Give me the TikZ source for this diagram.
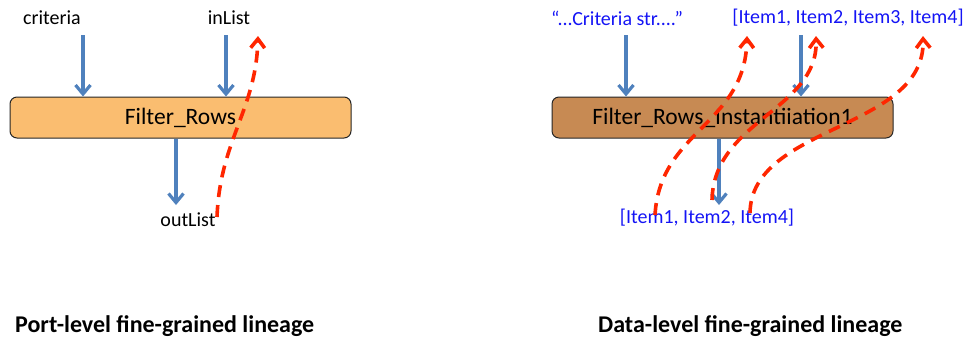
\documentclass[tikz,border=0pt]{standalone}
\usepackage{fontspec}
\setmainfont{Carlito}
\usetikzlibrary{arrows.meta}
\definecolor{flowblue}{RGB}{79,129,189}
\definecolor{lineagered}{RGB}{255,38,0}
\definecolor{portorange}{RGB}{250,189,112}
\definecolor{databrown}{RGB}{199,138,83}
\definecolor{valueblue}{RGB}{20,20,245}
\begin{document}
\begin{tikzpicture}[x=1pt,y=-1pt,
    port/.style={font=\fontsize{20}{24}\selectfont},
    value/.style={font=\fontsize{20}{24}\selectfont, text=valueblue},
    actor/.style={draw=black!85, line width=1pt, rounded corners=7pt, minimum width=341pt, minimum height=41pt, inner sep=0pt, font=\fontsize{23.5}{28}\selectfont},
    flow/.style={draw=flowblue, line width=3.2pt, -{Straight Barb[length=9pt,width=15pt]}},
    lineage/.style={draw=lineagered, line width=3.6pt, dash pattern=on 12pt off 8pt, -{Straight Barb[length=9pt,width=14pt]}},
    title/.style={anchor=west, inner sep=0pt, font=\fontsize{24}{29}\selectfont\bfseries}]
  \useasboundingbox (0,0) rectangle (968,341);

  % Port level - actor with its three ports
  \node[actor, fill=portorange] (filter) at (180.5,117.5) {Filter\_Rows};
  \node[port] (criteria) at (52,18) {criteria};
  \node[port] (inList) at (229,18) {inList};
  \node[port] (outList) at (188,220) {outList};
  \coordinate (criteriaIn) at (83,35);
  \coordinate (inListIn) at (226,35);
  \coordinate (outListOut) at (176,205);
  \draw[flow] (criteriaIn) -- (criteriaIn |- filter.north);
  \draw[flow] (inListIn) -- (inListIn |- filter.north);
  \draw[flow] (outListOut |- filter.south) -- (outListOut);

  % lineage of the output port back to inList
  \coordinate (outTrace) at (217,217);
  \coordinate (inTrace) at (258,36);
  \draw[lineage] (outTrace) .. controls (220,140) and (256,110) .. (inTrace);

  % Data level - instantiation with its values
  \node[actor, fill=databrown] (filterInst) at (722.5,117.5) {Filter\_Rows\_Instantiiation1};
  \node[value] (criteriaVal) at (617,18) {“...Criteria str....”};
  \node[value] (inListVal) at (848,18) {[Item1, Item2, Item3, Item4]};
  \node[value] (outListVal) at (707,218) {[Item1, Item2, Item4]};
  \coordinate (criteriaValIn) at (626,35);
  \coordinate (inListValIn) at (801,35);
  \coordinate (outListValOut) at (719,205);
  \draw[flow] (criteriaValIn) -- (criteriaValIn |- filterInst.north);
  \draw[flow] (inListValIn) -- (inListValIn |- filterInst.north);
  \draw[flow] (outListValOut |- filterInst.south) -- (outListValOut);

  % lineage of each output item back to its input item
  \coordinate (outItemA) at (655,215);
  \coordinate (outItemB) at (712,200);
  \coordinate (outItemC) at (750,213);
  \coordinate (inItemA) at (747,36);
  \coordinate (inItemB) at (816,36);
  \coordinate (inItemC) at (923,36);
  \draw[lineage] (outItemA) .. controls (660,130) and (745,125) .. (inItemA);
  \draw[lineage] (outItemB) .. controls (714,120) and (818,110) .. (inItemB);
  \draw[lineage] (outItemC) .. controls (751,125) and (925,130) .. (inItemC);

  % captions
  \node[title] (portTitle) at (15,326) {Port-level fine-grained lineage};
  \node[title] (dataTitle) at (598,326) {Data-level fine-grained lineage};
\end{tikzpicture}
\end{document}
